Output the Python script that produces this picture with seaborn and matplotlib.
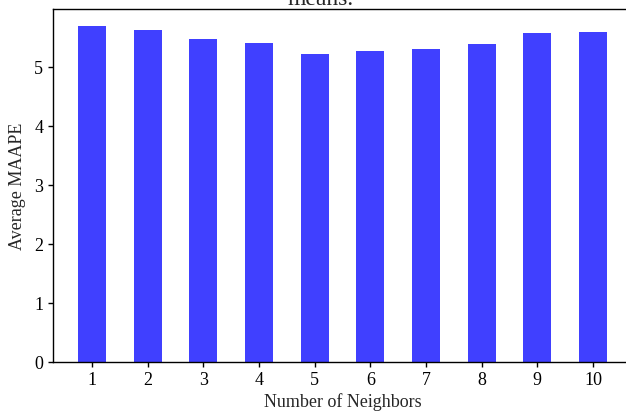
import matplotlib
matplotlib.use("Agg")
import matplotlib.pyplot as plt
import seaborn as sns
import pandas as pd

# Average MAAPE for each neighbour count
neighbors = [1, 2, 3, 4, 5, 6, 7, 8, 9, 10]
avg_maape = [5.69, 5.62, 5.48, 5.40, 5.22, 5.28, 5.31, 5.39, 5.57, 5.59]
tick_labels = [str(n) for n in neighbors]

sns.set_style("ticks")
plt.rcParams["font.family"] = ["Liberation Serif", "DejaVu Serif"]

df = pd.DataFrame({"k": tick_labels, "maape": avg_maape})

fig = plt.figure(figsize=(6.26, 4.13), dpi=100)
ax = fig.add_axes([53 / 626, 50.7 / 413, 580 / 626, 352.8 / 413])

sns.barplot(data=df, x="k", y="maape", ax=ax, color="blue", alpha=0.75,
            saturation=1, width=0.5, linewidth=0, errorbar=None)

ax.set_xlim(-0.70, 9.72)
ax.set_ylim(0, max(avg_maape) * 1.05)
ax.set_yticks([0, 1, 2, 3, 4, 5])
ax.set_xlabel("Number of Neighbors", fontsize=13, labelpad=3)
ax.set_ylabel("Average MAAPE", fontsize=13, labelpad=6)
ax.tick_params(axis="both", labelsize=13, length=3.5, width=1, colors="black", direction="out")
for side in ["left", "bottom", "top", "right"]:
    ax.spines[side].set_visible(True)
    ax.spines[side].set_color("black")
    ax.spines[side].set_linewidth(1)

# last line of the figure title, sitting above the axes
fig.text(321 / 626, 1 - 5 / 413, "means.", ha="center", va="baseline", fontsize=17)

fig.savefig("out.png", dpi=100)
